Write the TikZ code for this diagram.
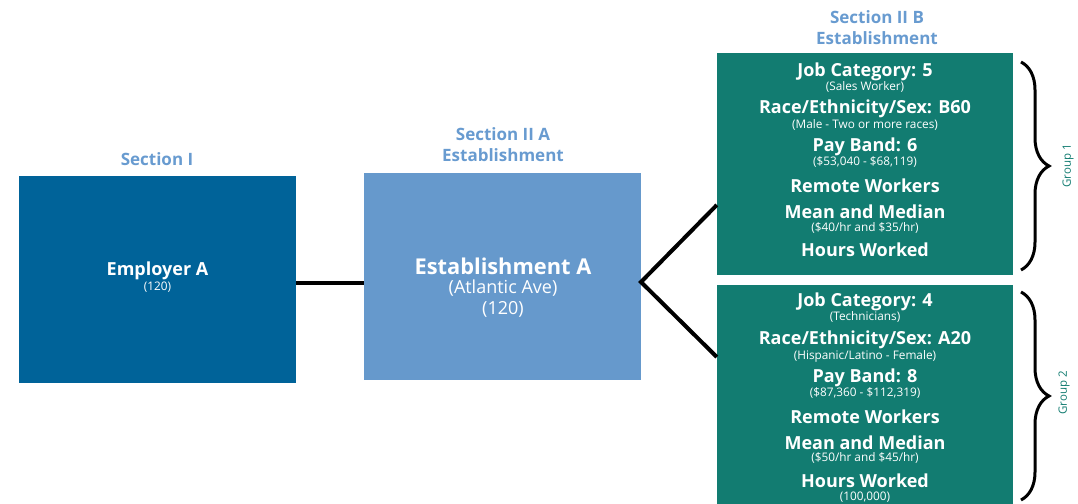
\documentclass[tikz,border=0pt]{standalone}
\usepackage{fontspec}
\setmainfont{Open Sans}
\usetikzlibrary{decorations.pathreplacing}
\definecolor{empblue}{RGB}{0,99,153}
\definecolor{estblue}{RGB}{102,153,204}
\definecolor{titleblue}{RGB}{104,155,208}
\definecolor{teal1}{RGB}{18,124,113}
\tikzset{
  ttl/.style={text=titleblue, font=\fontsize{17}{21}\selectfont\bfseries, align=center},
  big/.style={text=white, font=\fontsize{18}{21}\selectfont\bfseries},
  small/.style={text=white, font=\fontsize{11.8}{13}\selectfont},
  conn/.style={line width=4.5pt, black},
  brc/.style={decorate, decoration={brace, amplitude=28pt}, line width=3pt, black},
  grp/.style={text=teal1, font=\fontsize{11.5}{14}\selectfont, rotate=90}
}
\begin{document}
\begin{tikzpicture}[x=1pt,y=1pt]
\useasboundingbox (0,0) rectangle (1078,503);
% boxes
\node[fill=empblue, minimum width=277pt, minimum height=207pt, inner sep=0pt] (emp) at (157.5,223.5) {};
\node[fill=estblue, minimum width=277pt, minimum height=207pt, inner sep=0pt] (est) at (502.5,226.5) {};
\node[fill=teal1, minimum width=296pt, minimum height=222pt, inner sep=0pt] (g1) at (865,339) {};
\node[fill=teal1, minimum width=296pt, minimum height=222pt, inner sep=0pt] (g2) at (865,107) {};
% titles
\node[ttl] (t1) at (157,344) {Section I};
\node[ttl] (t2) at (503,358.5) {Section II A\\Establishment};
\node[ttl] (t3) at (877,475.5) {Section II B\\Establishment};
% employer text
\node[big] (e1) at (157.5,232) {Employer A};
\node[small] (e2) at (157.5,216) {(120)};
% establishment text
\node[big, font=\fontsize{21.8}{25}\selectfont\bfseries] (s1) at (503,237) {Establishment A};
\node[text=white, font=\fontsize{18}{21}\selectfont] (s2) at (503,215) {(Atlantic Ave)};
\node[text=white, font=\fontsize{18}{21}\selectfont] (s3) at (503,194) {(120)};
% group 1 text
\node[big] (a1) at (865,431) {Job Category: 5};
\node[small] (a2) at (865,416) {(Sales Worker)};
\node[big] (a3) at (865,394) {Race/Ethnicity/Sex: B60};
\node[small] (a4) at (865,378) {(Male - Two or more races)};
\node[big] (a5) at (865,356) {Pay Band: 6};
\node[small] (a6) at (865,341) {(\$53,040 - \$68,119)};
\node[big] (a7) at (865,317) {Remote Workers};
\node[big] (a8) at (865,291) {Mean and Median};
\node[small] (a9) at (865,275) {(\$40/hr and \$35/hr)};
\node[big] (a10) at (865,253) {Hours Worked};
% group 2 text
\node[big] (b1) at (865,201) {Job Category: 4};
\node[small] (b2) at (865,186) {(Technicians)};
\node[big] (b3) at (865,163) {Race/Ethnicity/Sex: A20};
\node[small] (b4) at (865,147) {(Hispanic/Latino - Female)};
\node[big] (b5) at (865,125) {Pay Band: 8};
\node[small] (b6) at (865,110) {(\$87,360 - \$112,319)};
\node[big] (b7) at (865,86) {Remote Workers};
\node[big] (b8) at (865,60) {Mean and Median};
\node[small] (b9) at (865,45) {(\$50/hr and \$45/hr)};
\node[big] (b10) at (865,22) {Hours Worked};
\node[small] (b11) at (865,6) {(100,000)};
% connectors
\coordinate (br) at (641,221);
\draw[conn] ([yshift=-3.5pt]emp.east) -- ([yshift=-3.5pt]emp.east -| est.west);
\draw[conn, line width=4pt, line join=miter] (g1.west |- 0,298) -- (br) -- (g2.west |- 0,146);
% braces
\coordinate (b1t) at (1021,441);
\coordinate (b1b) at (1021,233);
\coordinate (b2t) at (1021,211);
\coordinate (b2b) at (1021,3);
\draw[brc] (b1t) -- (b1b);
\draw[brc] (b2t) -- (b2b);
\node[grp] (gl1) at (1068,337) {Group 1};
\node[grp] (gl2) at (1064,110) {Group 2};
\end{tikzpicture}
\end{document}
